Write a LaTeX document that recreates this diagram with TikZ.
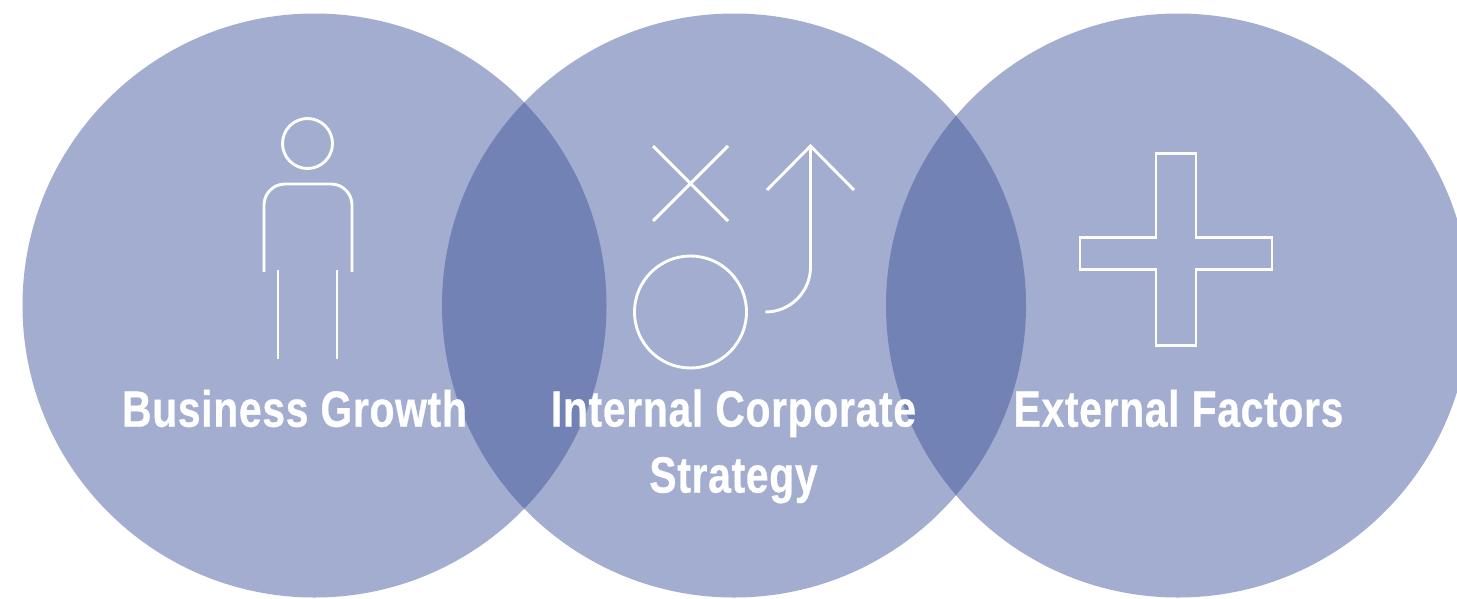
\documentclass[tikz,border=0pt]{standalone}
\usepackage{fontspec}
\setmainfont{Liberation Sans}
\newfontfamily\labelfont[FakeStretch=0.80,LetterSpace=1.4,FakeBold=0.6]{Liberation Sans}
\definecolor{disc}{HTML}{A2ADD0}
\definecolor{lens}{HTML}{7382B5}
\tikzset{
  icon/.style={draw=white,line width=2.9pt,line cap=butt},
  lab/.style={text=white,font=\labelfont\bfseries\fontsize{51}{66}\selectfont,align=center,inner sep=0pt}
}
\begin{document}
\begin{tikzpicture}[x=1pt,y=-1pt]
\useasboundingbox (0,0) rectangle (1457,598);
\clip (0,0) rectangle (1457,598);
\fill[white] (0,0) rectangle (1457,598);
\fill[disc] (314.5,305.5) circle (292);
\fill[disc] (734,305.5) circle (292);
\fill[disc] (1178,305.5) circle (292);
\begin{scope}
\clip (314.5,305.5) circle (292);
\fill[lens] (734,305.5) circle (292);
\end{scope}
\begin{scope}
\clip (734,305.5) circle (292);
\fill[lens] (1178,305.5) circle (292);
\end{scope}
% person
\draw[icon] (307.5,143.5) circle (25);
\draw[icon] (264,272) -- (264,205) arc[start angle=180,end angle=270,radius=21] -- (331,184) arc[start angle=270,end angle=360,radius=21] -- (352,272);
\draw[icon] (278,270) -- (278,359);
\draw[icon] (337,270) -- (337,359);
% strategy
\draw[icon] (653,146) -- (728,221);
\draw[icon] (728,146) -- (653,221);
\draw[icon] (690.5,312) circle (56);
\draw[icon] (767,190) -- (810.5,146) -- (854,190);
\draw[icon] (810.5,146) -- (810.5,267) arc[start angle=0,end angle=90,radius=45] -- (766,312);
% plus
\draw[icon] (1156,153.5) -- (1196,153.5) -- (1196,237.5) -- (1272,237.5) -- (1272,269.5) -- (1196,269.5) -- (1196,345.5) -- (1156,345.5) -- (1156,269.5) -- (1080,269.5) -- (1080,237.5) -- (1156,237.5) -- cycle;
% labels
\node[lab] (growth) at (294.5,408.5) {Business Growth};
\node[lab] (strategy) at (733.5,446.5) {Internal Corporate\\Strategy};
\node[lab] (factors) at (1178.5,408.5) {External Factors};
\end{tikzpicture}
\end{document}
